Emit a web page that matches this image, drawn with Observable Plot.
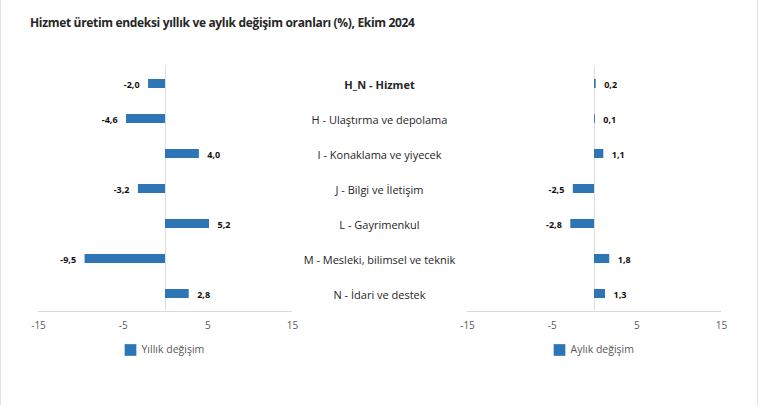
<!DOCTYPE html>
<html>
<head>
<meta charset="utf-8">
<script src="https://cdn.jsdelivr.net/npm/d3@7"></script>
<script src="https://cdn.jsdelivr.net/npm/@observablehq/plot@0.6"></script>
<style>
  html, body { margin: 0; padding: 0; background: #fff; }
  #wrap { position: relative; width: 756px; height: 405px; border-left: 1px solid #e3e3e3; border-right: 1px solid #e3e3e3; overflow: hidden; }
  #title { height: 40px; box-sizing: border-box; padding: 14px 0 0 29px; font-family: "Open Sans", sans-serif; font-weight: 700; font-size: 12px; letter-spacing: -0.33px; color: #262626; white-space: nowrap; }
  #chart svg { display: block; }
</style>
</head>
<body>
<div id="wrap">
  <div id="title">Hizmet üretim endeksi yıllık ve aylık değişim oranları (%), Ekim 2024</div>
  <div id="chart"></div>
</div>
<script>
const categories = ["H_N - Hizmet", "H - Ulaştırma ve depolama", "I - Konaklama ve yiyecek", "J - Bilgi ve İletişim", "L - Gayrimenkul", "M - Mesleki, bilimsel ve teknik", "N - İdari ve destek"];
const annual = [-2.0, -4.6, 4.0, -3.2, 5.2, -9.5, 2.8];
const monthly = [0.2, 0.1, 1.1, -2.5, -2.8, 1.8, 1.3];
const series = ["Yıllık değişim", "Aylık değişim"];
const xTicks = [-15, -5, 5, 15];
const xDomain = [-15, 15];

const rows = [];
categories.forEach((c, i) => {
  rows.push({cat: c, series: series[0], value: annual[i]});
  rows.push({cat: c, series: series[1], value: monthly[i]});
});
const fmt = v => v.toFixed(1).replace(".", ",");
const blue = "#2e75b6";
const font = "Open Sans, sans-serif";

const chart = Plot.plot({
  width: 756,
  height: 365,
  marginLeft: 37,
  marginRight: 36,
  marginTop: 25.5,
  marginBottom: 94.5,
  style: {fontFamily: font, background: "transparent", overflow: "visible"},
  fx: {domain: series, paddingInner: 0.409, paddingOuter: 0, axis: null},
  x: {domain: xDomain, ticks: xTicks, tickFormat: d => String(d)},
  y: {domain: categories, padding: 0, axis: null},
  marks: [
    Plot.ruleX([0], {stroke: "#dedede", strokeWidth: 1}),
    Plot.ruleY(series.map(s => ({s, c: categories[categories.length - 1]})), {fx: "s", y: "c", dy: 17.5, stroke: "#d9d9d9", strokeWidth: 1}),
    Plot.axisX({ticks: xTicks, tickFormat: d => String(d), tickSize: 0, tickPadding: 10.5, fontSize: 10, color: "#595959", label: null}),
    Plot.barX(rows, {x: "value", y: "cat", fx: "series", fill: blue, insetTop: 13, insetBottom: 13}),
    Plot.text(rows.filter(d => d.value >= 0), {x: "value", y: "cat", fx: "series", text: d => fmt(d.value), dx: 8, dy: 1.5, textAnchor: "start", fontWeight: "bold", fontSize: 9, fill: "#111"}),
    Plot.text(rows.filter(d => d.value < 0), {x: "value", y: "cat", fx: "series", text: d => fmt(d.value), dx: -9, dy: 1.5, textAnchor: "end", fontWeight: "bold", fontSize: 9, fill: "#111"}),
    Plot.text(categories.slice(0, 1), {y: d => d, fx: () => series[0], text: d => d, frameAnchor: "right", dx: 87, dy: 1.5, textAnchor: "middle", fontWeight: "bold", fontSize: 11, fill: "#262626"}),
    Plot.text(categories.slice(1), {y: d => d, fx: () => series[0], text: d => d, frameAnchor: "right", dx: 87, dy: 1.5, textAnchor: "middle", fontSize: 11, fill: "#262626"}),
    Plot.dot(series, {fx: d => d, frameAnchor: "bottom", dx: -35, dy: 39, symbol: "square", r: 6.6, fill: blue, stroke: null}),
    Plot.text(series, {fx: d => d, text: d => d, frameAnchor: "bottom", dx: -24, dy: 39, textAnchor: "start", lineAnchor: "middle", fontSize: 10.5, fill: "#595959"})
  ]
});
document.getElementById("chart").appendChild(chart);
</script>
</body>
</html>
